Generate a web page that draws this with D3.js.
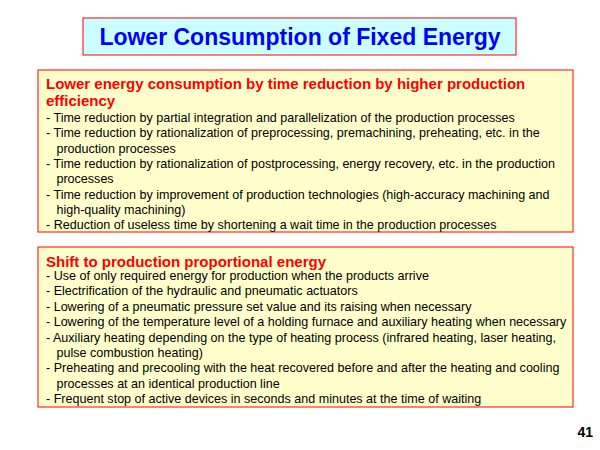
<!DOCTYPE html>
<html><head><meta charset="utf-8">
<script src="https://cdn.jsdelivr.net/npm/d3@7"></script>
<style>body{margin:0;background:#fff}</style></head>
<body><svg id="c" width="600" height="450"></svg>
<script>
const title = "Lower Consumption of Fixed Energy";
const heading1 = ["Lower energy consumption by time reduction by higher production", "efficiency"];
const items1 = [
"- Time reduction by partial integration and parallelization of the production processes",
"- Time reduction by rationalization of preprocessing, premachining, preheating, etc. in the",
"   production processes",
"- Time reduction by rationalization of postprocessing, energy recovery, etc. in the production",
"   processes",
"- Time reduction by improvement of production technologies (high-accuracy machining and",
"   high-quality machining)",
"- Reduction of useless time by shortening a wait time in the production processes"];
const heading2 = ["Shift to production proportional energy"];
const items2 = [
"- Use of only required energy for production when the products arrive",
"- Electrification of the hydraulic and pneumatic actuators",
"- Lowering of a pneumatic pressure set value and its raising when necessary",
"- Lowering of the temperature level of a holding furnace and auxiliary heating when necessary",
"- Auxiliary heating depending on the type of heating process (infrared heating, laser heating,",
"   pulse combustion heating)",
"- Preheating and precooling with the heat recovered before and after the heating and cooling",
"   processes at an identical production line",
"- Frequent stop of active devices in seconds and minutes at the time of waiting"];
const pageNum = "41";

const svg = d3.select("#c");
const F = "Arial, 'Liberation Sans', sans-serif";
svg.append("rect").attr("x",83).attr("y",18).attr("width",433).attr("height",37)
  .attr("fill","#CCFFFF").attr("stroke","#FF0000").attr("stroke-width",1);
svg.append("text").attr("x",300).attr("y",45).attr("text-anchor","middle")
  .attr("font-family",F).attr("font-weight","bold").attr("font-size",23).attr("fill","#0000FF").text(title);

function box(y, h, heads, items, hy, iy, step){
  svg.append("rect").attr("x",38).attr("y",y).attr("width",535).attr("height",h)
    .attr("fill","#FFFFCC").attr("stroke","#FF0000").attr("stroke-width",1);
  svg.selectAll(null).data(heads).enter().append("text")
    .attr("x",46).attr("y",(d,i)=>hy+i*17).attr("font-family",F).attr("font-weight","bold")
    .attr("font-size",15).attr("fill","#FF0000").text(d=>d);
  svg.selectAll(null).data(items).enter().append("text")
    .attr("x",46).attr("y",(d,i)=>iy+i*step).attr("font-family",F)
    .attr("font-size",12.55).attr("fill","#000").attr("xml:space","preserve")
    .style("white-space","pre").text(d=>d);
}
box(70,162,heading1,items1,89,122,15.3);
box(247,160,heading2,items2,267,280,15.4);
svg.append("text").attr("x",593).attr("y",437).attr("text-anchor","end").attr("font-family",F)
  .attr("font-weight","bold").attr("font-size",14).text(pageNum);
</script></body></html>
